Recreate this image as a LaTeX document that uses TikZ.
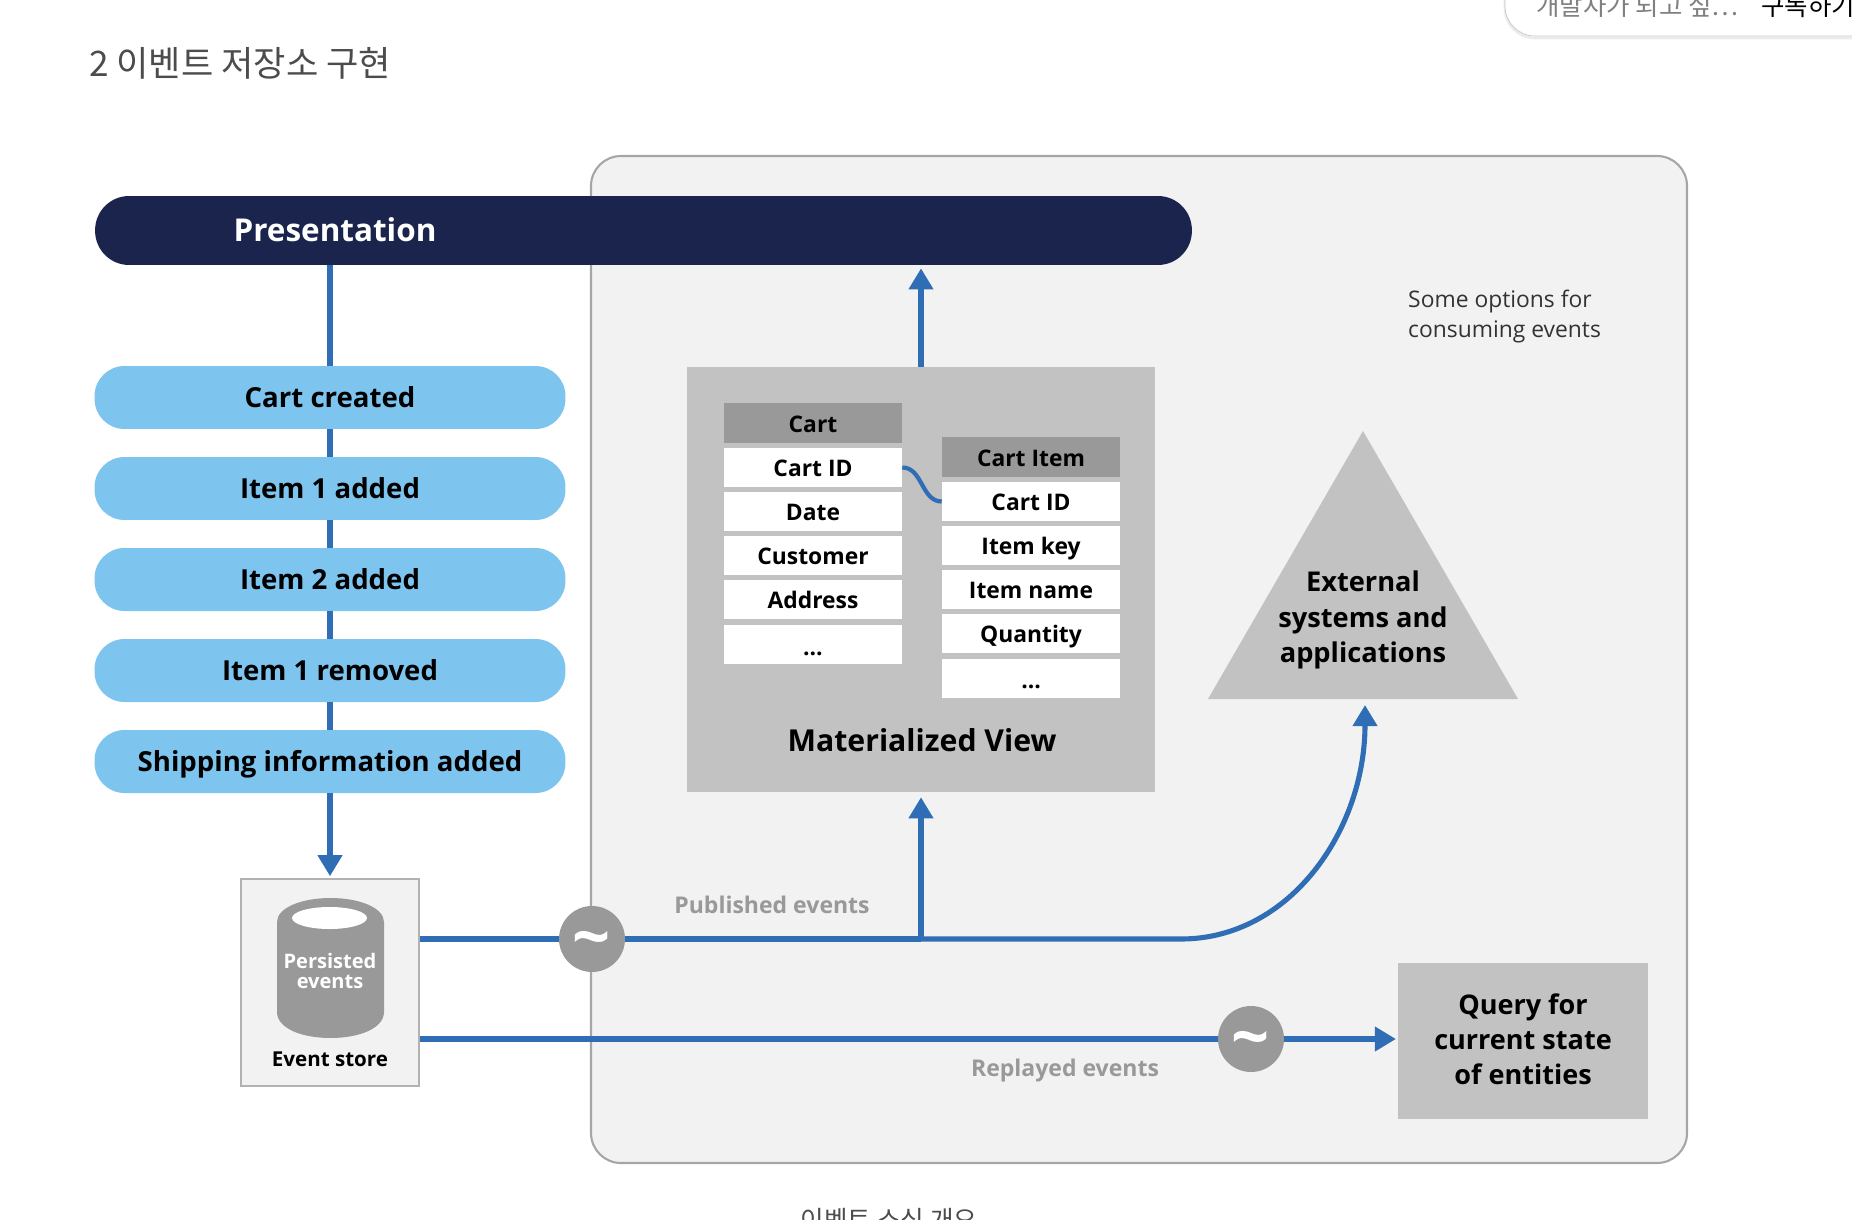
\documentclass[tikz,border=0pt]{standalone}
\usepackage{fontspec}
\setmainfont{Open Sans}
\newfontfamily\krfont{Noto Sans CJK KR}
\usetikzlibrary{positioning,arrows.meta}
\definecolor{flowblue}{HTML}{2F6EB5}
\definecolor{pillblue}{HTML}{7DC4EE}
\definecolor{navybar}{HTML}{1B244D}
\definecolor{panelgray}{HTML}{F2F2F2}
\definecolor{panelline}{HTML}{A6A6A6}
\definecolor{boxgray}{HTML}{C3C2C3}
\definecolor{headgray}{HTML}{999999}
\newcommand{\fs}[1]{\fontsize{#1}{#1}\selectfont\baselineskip=1.3\baselineskip}
\tikzset{
  flow/.style      ={draw=flowblue, line width=2.9pt},
  flowarrow/.style ={flow, -{Triangle[length=12pt,width=13.5pt]}},
  eventpill/.style ={fill=pillblue, rounded corners=0.6cm, minimum width=9.42cm, minimum height=1.26cm,
                     inner sep=0pt, text height=13pt, text depth=1.5pt, font=\bfseries\fs{15.7}},
  headcell/.style  ={fill=headgray, minimum width=3.56cm, minimum height=0.8cm, inner sep=0pt,
                     text height=12pt, text depth=1.5pt, font=\bfseries\fs{13}},
  rowcell/.style   ={fill=white, minimum width=3.56cm, minimum height=0.78cm, inner sep=0pt,
                     text height=12pt, text depth=1.5pt, font=\bfseries\fs{13}},
  tilde/.style     ={circle, fill=headgray, minimum size=1.32cm, inner sep=0pt, text=white, font=\bfseries\fs{38}},
  graylabel/.style ={text=headgray, font=\bfseries\fs{13.1}},
}
\begin{document}
\begin{tikzpicture}[x=0.02cm, y=-0.02cm, line cap=butt]
  \useasboundingbox (0,0) rectangle (1852,1220);

  %--- Page text around the figure ---
  \node[anchor=west, text=black!70, font=\krfont\fs{20}] (pageTitle) at (83,63) {2 이벤트 저장소 구현};
  \node[text=black!70, font=\krfont\fs{14.6}] (pageCaption) at (889,1220) {이벤트 소싱 개요};
  \draw[black!8, line width=1.5pt, rounded corners=0.6cm] (1505,-40) rectangle (1900,38);
  \draw[black!22, fill=white, rounded corners=0.6cm] (1505,-40) rectangle (1900,36);
  \node[anchor=west, text=black!50, font=\krfont\fs{14.5}] (chipText) at (1530,6) {개발자가 되고 싶⋯};
  \node[anchor=west, font=\krfont\fs{14.5}] (chipButton) at (1755,6) {구독하기};

  %--- Panel of consumers ---
  \draw[panelline, fill=panelgray, line width=1.2pt, rounded corners=0.6cm] (591,156) rectangle (1687,1163);
  \node[anchor=north west, align=left, text=black!80, font=\fs{13}] (optionsNote) at (1402,284)
    {Some options for\\consuming events};

  %--- Presentation bar ---
  \node[fill=navybar, rounded corners=0.68cm, minimum width=21.94cm, minimum height=1.38cm, inner sep=0pt]
    (presentation) at (643.5,230.5) {};
  \node[text=white, font=\bfseries\fs{17.9}] (presentationText) at (335,230) {Presentation};

  %--- Events in the stream ---
  \node[eventpill] (cartCreated) at (330,397.5) {Cart created};
  \node[eventpill] (itemOneAdded) at (330,488.5) {Item 1 added};
  \node[eventpill] (itemTwoAdded) at (330,579.5) {Item 2 added};
  \node[eventpill] (itemOneRemoved) at (330,670.5) {Item 1 removed};
  \node[eventpill] (shippingAdded) at (330,761.5) {Shipping information added};

  %--- Event store with its cylinder ---
  \node[draw=black!30, fill=panelgray, line width=1.2pt, minimum width=3.56cm, minimum height=4.14cm, inner sep=0pt]
    (eventStore) at (330,982.5) {};
  \fill[headgray] (277,922) .. controls (277,908) and (301,898) .. (330.5,898)
    .. controls (360,898) and (384,908) .. (384,922) -- (384,1012)
    .. controls (384,1028) and (360,1038) .. (330.5,1038)
    .. controls (301,1038) and (277,1028) .. (277,1012) -- cycle;
  \fill[white] (329.5,918) ellipse[x radius=37.5, y radius=11];
  \node[align=center, text=white, font=\bfseries\fs{11.4}, inner sep=0pt] (persistedText) at (330,971) {Persisted\\[-3pt]events};
  \node[font=\bfseries\fs{11.7}] (eventStoreText) at (330,1059) {Event store};

  %--- Materialized view and its two tables ---
  \node[fill=boxgray, minimum width=9.38cm, minimum height=8.5cm, inner sep=0pt] (materialView) at (921,579.5) {};
  \node[font=\bfseries\fs{17.2}] (materialText) at (922,740) {Materialized View};

  \node[headcell] (cartHead) at (813,423) {Cart};
  \node[rowcell] (cartId) at (813,467.5) {Cart ID};
  \node[rowcell] (cartDate) at (813,511.5) {Date};
  \node[rowcell] (cartCustomer) at (813,555.5) {Customer};
  \node[rowcell] (cartAddress) at (813,599.5) {Address};
  \node[rowcell] (cartMore) at (813,644.5) {\raisebox{-1pt}[0pt][0pt]{\dots}};

  \node[headcell] (itemHead) at (1031,457) {Cart Item};
  \node[rowcell] (itemCartId) at (1031,501.5) {Cart ID};
  \node[rowcell] (itemKey) at (1031,545.5) {Item key};
  \node[rowcell] (itemName) at (1031,589.5) {Item name};
  \node[rowcell] (itemQuantity) at (1031,633.5) {Quantity};
  \node[rowcell] (itemMore) at (1031,678) {\raisebox{-1pt}[0pt][0pt]{\dots}};

  %--- External systems ---
  \fill[boxgray] (1363,431) -- (1518,699) -- (1208,699) -- cycle;
  \node[align=center, inner sep=0pt, font=\bfseries\fs{15.5}] (externalText) at (1363,620)
    {External\\systems and\\applications};
  \coordinate (externalTip) at (1365,705);

  %--- Query box ---
  \node[fill=boxgray, minimum width=5cm, minimum height=3.12cm, inner sep=0pt] (queryBox) at (1523,1041) {};
  \node[align=center, inner sep=0pt, font=\bfseries\fs{15.4}] (queryText) at (1523,1039)
    {Query for\\current state\\of entities};

  %--- Flow of events on the left ---
  \draw[flow] (cartCreated.north |- presentation.south) -- (cartCreated.north);
  \draw[flow] (cartCreated) -- (itemOneAdded);
  \draw[flow] (itemOneAdded) -- (itemTwoAdded);
  \draw[flow] (itemTwoAdded) -- (itemOneRemoved);
  \draw[flow] (itemOneRemoved) -- (shippingAdded);
  \draw[flowarrow, shorten >=1pt] (shippingAdded) -- (eventStore);

  %--- Published events ---
  \node[tilde] (publishTilde) at (592,939) {\raisebox{-12.5pt}[0pt][0pt]{\string~}};
  \coordinate (publishJoin) at (materialView.south |- publishTilde);
  \draw[flow] (eventStore.east |- publishTilde) -- (publishTilde);
  \draw[flow] (publishTilde) -- (publishJoin);
  \draw[flowarrow, shorten >=2.8pt] (publishJoin) -- (materialView.south);
  \draw[flowarrow] (publishJoin) -- (1181,939) .. controls (1290,939) and (1365,830) .. (externalTip);
  \draw[flowarrow, shorten >=1.7pt] (materialView.north) -- (materialView.north |- presentation.south);
  \node[graylabel] (publishedText) at (772,905) {Published events};

  %--- Replayed events ---
  \node[tilde] (replayTilde) at (1251,1039) {\raisebox{-12.5pt}[0pt][0pt]{\string~}};
  \draw[flow] (eventStore.east |- replayTilde) -- (replayTilde);
  \draw[flowarrow, shorten >=1pt] (replayTilde) -- (queryBox.west |- replayTilde);
  \node[graylabel] (replayedText) at (1065,1071) {Replayed events};

  %--- Link between the tables ---
  \draw[flowblue, line width=2.4pt] (cartId.east) to[out=0, in=180] (itemCartId.west);
\end{tikzpicture}
\end{document}
